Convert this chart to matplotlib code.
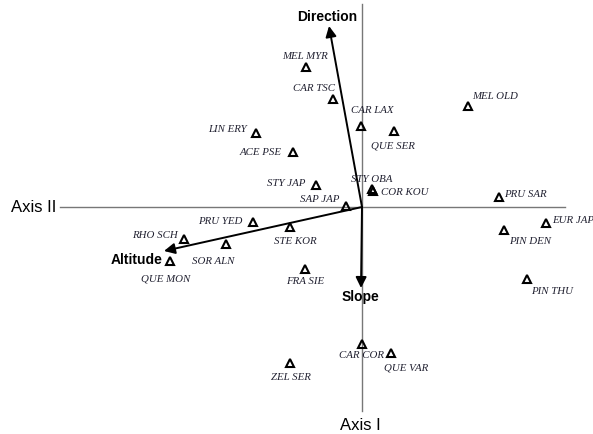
import matplotlib.pyplot as plt

# species scores on the first two ordination axes
species = ['MEL MYR', 'CAR TSC', 'CAR LAX', 'QUE SER', 'MEL OLD', 'LIN ERY',
           'ACE PSE', 'STY JAP', 'STY OBA', 'COR KOU', 'SAP JAP', 'PRU SAR',
           'EUR JAP', 'PIN DEN', 'PIN THU', 'CAR COR', 'QUE VAR', 'FRA SIE',
           'STE KOR', 'ZEL SER', 'PRU YED', 'RHO SCH', 'SOR ALN', 'QUE MON']
axis2 = [-0.56, -0.29, -0.01, 0.32, 1.06, -1.06,
         -0.69, -0.46, 0.10, 0.11, -0.16, 1.37,
         1.84, 1.42, 1.65, 0.00, 0.29, -0.57,
         -0.72, -0.72, -1.09, -1.78, -1.36, -1.92]
axis1 = [1.40, 1.08, 0.81, 0.76, 1.01, 0.74,
         0.55, 0.22, 0.18, 0.16, 0.01, 0.10,
         -0.16, -0.23, -0.72, -1.37, -1.46, -0.62,
         -0.20, -1.56, -0.15, -0.32, -0.37, -0.54]

# environmental vectors
env = ['Direction', 'Altitude', 'Slope']
env_axis2 = [-0.33, -1.98, -0.01]
env_axis1 = [1.81, -0.44, -0.81]

# label placement (offset in pixels, horizontal alignment)
lab_pos = {
    'MEL MYR': (-1, 11, 'center'), 'CAR TSC': (-19, 11, 'center'),
    'CAR LAX': (11, 16, 'center'), 'QUE SER': (-1, -14, 'center'),
    'MEL OLD': (27, 10, 'center'), 'LIN ERY': (-29, 4, 'center'),
    'ACE PSE': (-32, 0, 'center'), 'STY JAP': (-30, 2, 'center'),
    'STY OBA': (0, 10, 'center'), 'COR KOU': (32, -1, 'center'),
    'SAP JAP': (-26, 7, 'center'), 'PRU SAR': (26, 3, 'center'),
    'EUR JAP': (6, 3, 'left'), 'PIN DEN': (26, -11, 'center'),
    'PIN THU': (25, -11, 'center'), 'CAR COR': (-1, -11, 'center'),
    'QUE VAR': (15, -14, 'center'), 'FRA SIE': (0, -12, 'center'),
    'STE KOR': (5, -14, 'center'), 'ZEL SER': (1, -13, 'center'),
    'PRU YED': (-33, 1, 'center'), 'RHO SCH': (-29, 4, 'center'),
    'SOR ALN': (-13, -16, 'center'), 'QUE MON': (-4, -17, 'center'),
}
env_pos = {'Direction': (-2, 10, 'center'), 'Altitude': (-1, -8, 'right'),
           'Slope': (-1, -8, 'center')}

fig = plt.figure(figsize=(5.93, 4.35), dpi=100)
ax = fig.add_axes([0, 0, 1, 1])
ax.set_xlim(-3.62, 2.31)
ax.set_ylim(-2.27, 2.08)
ax.axis('off')

# axis lines through the origin
ax.plot([-3.02, 2.03], [0, 0], color='#777777', lw=1, zorder=1)
ax.plot([0, 0], [-2.04, 2.03], color='#777777', lw=1, zorder=1)
ax.text(-3.06, 0.005, 'Axis II', ha='right', va='center', fontsize=12,
        family='Liberation Sans')
ax.text(-0.02, -2.17, 'Axis I', ha='center', va='center', fontsize=12,
        family='Liberation Sans')

ax.plot(axis2, axis1, linestyle='none', marker='^', markersize=6,
        markerfacecolor='none', markeredgecolor='black', markeredgewidth=1.5,
        zorder=3)
for name, x, y in zip(species, axis2, axis1):
    dx, dy, ha = lab_pos[name]
    ax.annotate(name, (x, y), xytext=(dx, dy), textcoords='offset pixels',
                ha=ha, va='center', fontsize=7.8, style='italic',
                family='Liberation Serif', color='#202030')

for name, x, y in zip(env, env_axis2, env_axis1):
    ax.annotate('', xy=(x, y), xytext=(0, 0),
                arrowprops=dict(arrowstyle='-|>', color='black', lw=1.4,
                                mutation_scale=16, shrinkA=0, shrinkB=0),
                zorder=2)
    dx, dy, ha = env_pos[name]
    ax.annotate(name, (x, y), xytext=(dx, dy), textcoords='offset pixels',
                ha=ha, va='center', fontsize=10, fontweight='bold',
                family='Liberation Sans')

fig.savefig('out.png', dpi=100)
